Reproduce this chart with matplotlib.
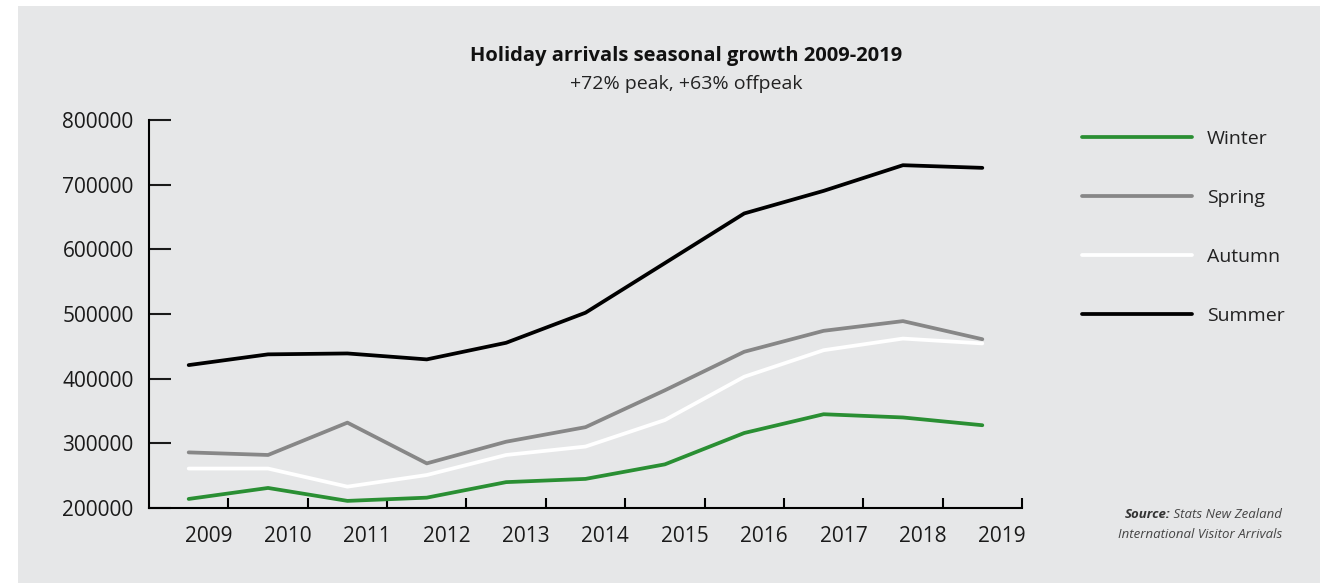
import matplotlib.pyplot as plt
from matplotlib.patches import Rectangle

years = ['2009', '2010', '2011', '2012', '2013', '2014', '2015', '2016', '2017', '2018', '2019']
winter = [214000, 231000, 211000, 216000, 240000, 245000, 267500, 316000, 345000, 340000, 328000]
spring = [286000, 282000, 332000, 269000, 302500, 325000, 382000, 441600, 474000, 489000, 461000]
autumn = [261000, 261000, 233000, 251000, 282000, 295000, 336000, 403000, 444000, 462000, 454500]
summer = [421000, 437600, 439000, 429800, 455500, 502000, 578700, 655500, 690400, 730100, 726000]
yticks = [200000, 300000, 400000, 500000, 600000, 700000, 800000]

plt.rcParams['font.family'] = ['Open Sans', 'DejaVu Sans']
bg = '#e6e7e8'

fig = plt.figure(figsize=(13.2, 5.83), dpi=100)
fig.patch.set_facecolor('white')
panel = Rectangle((18 / 1320, 0), 1 - 18 / 1320, 1 - 6 / 583,
                  transform=fig.transFigure, facecolor=bg, edgecolor='none', zorder=-10)
fig.add_artist(panel)

ax = fig.add_axes([149 / 1320, 1 - 508 / 583, (1022 - 149) / 1320, (508 - 120) / 583])
ax.patch.set_alpha(0)

x = list(range(len(years)))
lw = 2.7
ax.plot(x, winter, color='#2a8f33', lw=lw, label='Winter', solid_capstyle='round')
ax.plot(x, spring, color='#878787', lw=lw, label='Spring', solid_capstyle='round')
ax.plot(x, autumn, color='white', lw=lw, label='Autumn', solid_capstyle='round')
ax.plot(x, summer, color='black', lw=lw, label='Summer', solid_capstyle='round')

ax.set_xlim(-0.5, len(years) - 0.5)
ax.set_ylim(200000, 800000)
ax.set_yticks(yticks)
ax.set_yticklabels([str(v) for v in yticks])

# major ticks mark band edges, labels sit on minor ticks
ax.set_xticks([i + 0.5 for i in x])
ax.set_xticklabels([])
ax.set_xticks([i + 0.25 for i in x], minor=True)
ax.set_xticklabels(years, minor=True)

for s in ['top', 'right']:
    ax.spines[s].set_visible(False)
for s in ['left', 'bottom']:
    ax.spines[s].set_linewidth(1.5)
ax.tick_params(axis='y', direction='in', length=16, width=1.5, pad=11,
               labelsize=15, colors='#1a1a1a')
ax.tick_params(axis='x', which='major', direction='in', length=7, width=1.5)
ax.tick_params(axis='x', which='minor', length=0, pad=13, labelsize=15,
               labelcolor='#1a1a1a')

fig.text(686 / 1320, 1 - 56 / 583, 'Holiday arrivals seasonal growth 2009-2019',
         ha='center', va='center', fontsize=14.5, fontweight='bold', color='#111111')
fig.text(686 / 1320, 1 - 84 / 583, '+72% peak, +63% offpeak',
         ha='center', va='center', fontsize=14, color='#222222')

leg = fig.legend(loc='upper left', bbox_to_anchor=(1064 / 1320, 1 - 112 / 583),
                 frameon=False, handlelength=5.7, labelspacing=2.12,
                 handletextpad=0.75, fontsize=14)
for t in leg.get_texts():
    t.set_color('#222222')

src = fig.text(1282 / 1320, 1 - 514 / 583, ' Stats New Zealand',
               ha='right', va='center', fontsize=9.5, style='italic', color='#444444')
ax.annotate('Source:', xy=(0, 0.5), xycoords=src, ha='right', va='center',
            fontsize=9.5, style='italic', fontweight='bold', color='#333333',
            annotation_clip=False)
fig.text(1282 / 1320, 1 - 534 / 583, 'International Visitor Arrivals',
         ha='right', va='center', fontsize=9.5, style='italic', color='#444444')

fig.savefig('out.png', dpi=100, facecolor=fig.get_facecolor())
